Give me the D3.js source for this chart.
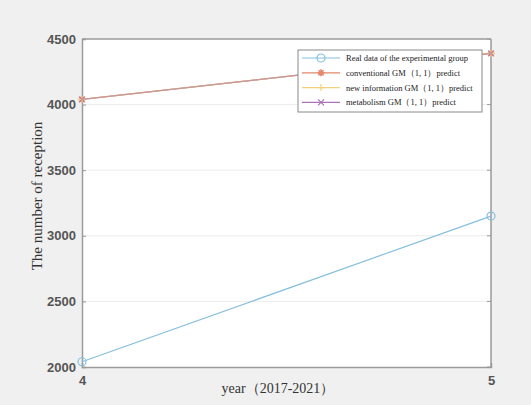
<!DOCTYPE html>
<html>
<head>
<meta charset="utf-8">
<script src="https://cdn.jsdelivr.net/npm/d3@7"></script>
<style>
  body { margin: 0; background: #f0f0f0; }
  svg { display: block; }
</style>
</head>
<body>
<script>
// data
let years = [4, 5];
let realData = [2040, 3150];
let conventional = [4040, 4390];
let newInfo = [4040, 4390];
let metabolism = [4040, 4390];
let yTicks = [2000, 2500, 3000, 3500, 4000, 4500];
let seriesNames = [
  "Real data of the experimental group",
  "conventional GM\uFF081,  1\uFF09predict",
  "new information GM\uFF081,  1\uFF09predict",
  "metabolism GM\uFF081,  1\uFF09predict"
];

let width = 531, height = 405;
let margin = { left: 82, right: 40, top: 39, bottom: 38 };

let x = d3.scaleLinear().domain([4, 5]).range([margin.left, width - margin.right]);
let y = d3.scaleLinear().domain([2000, 4500]).range([height - margin.bottom, margin.top]);

let svg = d3.select("body").append("svg")
  .attr("width", width)
  .attr("height", height);

svg.append("rect")
  .attr("width", width).attr("height", height)
  .attr("fill", "#f0f0f0");

// plot area
svg.append("rect")
  .attr("x", x(4)).attr("y", y(4500))
  .attr("width", x(5) - x(4)).attr("height", y(2000) - y(4500))
  .attr("fill", "#ffffff");

// faint grid
svg.append("g").selectAll("line")
  .data(yTicks.slice(1, -1))
  .enter().append("line")
  .attr("x1", x(4)).attr("x2", x(5))
  .attr("y1", d => y(d)).attr("y2", d => y(d))
  .attr("stroke", "#ececec").attr("stroke-width", 1);

// axes
let yAxis = d3.axisLeft(y).tickValues(yTicks).tickSize(-4).tickPadding(6).tickFormat(d3.format("d"));
let xAxis = d3.axisBottom(x).tickValues(years).tickSize(-4).tickPadding(9).tickFormat(d3.format("d"));

function styleAxis(g) {
  g.select(".domain").attr("stroke", "#9a9a9a").attr("stroke-width", 1.5);
  g.selectAll(".tick line").attr("stroke", "#9a9a9a");
  g.selectAll(".tick text")
    .attr("fill", "#555")
    .style("font-family", "Liberation Sans, Arial, sans-serif")
    .style("font-size", "13px")
    .style("font-weight", "bold");
}

svg.append("g")
  .attr("transform", "translate(" + x(4) + ",0)")
  .call(yAxis).call(styleAxis);

svg.append("g")
  .attr("transform", "translate(0," + y(2000) + ")")
  .call(xAxis).call(styleAxis);

// box: top and right
svg.append("line")
  .attr("x1", x(4)).attr("x2", x(5)).attr("y1", y(4500)).attr("y2", y(4500))
  .attr("stroke", "#9a9a9a").attr("stroke-width", 1.5);
svg.append("line")
  .attr("x1", x(5)).attr("x2", x(5)).attr("y1", y(4500)).attr("y2", y(2000))
  .attr("stroke", "#9a9a9a").attr("stroke-width", 1.5);
svg.append("g").selectAll("line")
  .data(yTicks)
  .enter().append("line")
  .attr("x1", x(5) - 4).attr("x2", x(5))
  .attr("y1", d => y(d)).attr("y2", d => y(d))
  .attr("stroke", "#9a9a9a");

// axis titles
svg.append("text")
  .attr("x", 278).attr("y", 393)
  .attr("text-anchor", "middle")
  .attr("fill", "#333")
  .style("font-family", "Liberation Serif, Times New Roman, serif")
  .style("font-size", "14px")
  .text("year\uFF082017-2021\uFF09");

svg.append("text")
  .attr("transform", "translate(42,196) rotate(-90)")
  .attr("text-anchor", "middle")
  .attr("fill", "#333")
  .style("font-family", "Liberation Serif, Times New Roman, serif")
  .style("font-size", "15px")
  .text("The number of reception");

// series
let series = [
  { name: seriesNames[1], values: conventional, color: "#e4876a", marker: "star" },
  { name: seriesNames[2], values: newInfo, color: "#f0d27a", marker: "plus" },
  { name: seriesNames[3], values: metabolism, color: "#a874b8", marker: "cross", opacity: 0.6 },
  { name: seriesNames[0], values: realData, color: "#86c0de", marker: "circle" }
];

let line = d3.line().x((d, i) => x(years[i])).y(d => y(d));

function drawMarker(g, type, color, cx, cy) {
  if (type === "circle") {
    g.append("circle").attr("cx", cx).attr("cy", cy).attr("r", 4)
      .attr("fill", "none").attr("stroke", color).attr("stroke-width", 1.2);
  } else if (type === "plus") {
    g.append("path").attr("d", "M" + (cx - 3.5) + "," + cy + "h7M" + cx + "," + (cy - 3.5) + "v7")
      .attr("stroke", color).attr("stroke-width", 1.2);
  } else if (type === "cross") {
    g.append("path").attr("d", "M" + (cx - 3) + "," + (cy - 3) + "l6,6M" + (cx - 3) + "," + (cy + 3) + "l6,-6")
      .attr("stroke", color).attr("stroke-width", 1.2);
  } else {
    g.append("path").attr("d", "M" + (cx - 3.5) + "," + cy + "h7M" + cx + "," + (cy - 3.5) + "v7" +
      "M" + (cx - 2.6) + "," + (cy - 2.6) + "l5.2,5.2M" + (cx - 2.6) + "," + (cy + 2.6) + "l5.2,-5.2")
      .attr("stroke", color).attr("stroke-width", 1.6);
  }
}

series.forEach(s => {
  let g = svg.append("g").attr("opacity", s.opacity || 1);
  g.append("path")
    .datum(s.values)
    .attr("d", line)
    .attr("fill", "none")
    .attr("stroke", s.color)
    .attr("stroke-width", 1.2);
  s.values.forEach((v, i) => drawMarker(g, s.marker, s.color, x(years[i]), y(v)));
});

// legend
let legend = svg.append("g").attr("transform", "translate(298,50)");
legend.append("rect")
  .attr("width", 184).attr("height", 62)
  .attr("fill", "#ffffff").attr("stroke", "#8a8a8a").attr("stroke-width", 1);

let legendItems = [series[3], series[0], series[1], { name: series[2].name, color: "#a874b8", marker: "cross" }];
legendItems.forEach((s, i) => {
  let ly = 8 + i * 14.8;
  let g = legend.append("g");
  g.append("line").attr("x1", 4).attr("x2", 42).attr("y1", ly).attr("y2", ly)
    .attr("stroke", s.color).attr("stroke-width", 1.2);
  drawMarker(g, s.marker, s.color, 23, ly);
  g.append("text")
    .attr("x", 48).attr("y", ly + 3)
    .attr("fill", "#222")
    .style("font-family", "Liberation Serif, Times New Roman, serif")
    .style("font-size", "8.5px")
    .text(s.name);
});
</script>
</body>
</html>
